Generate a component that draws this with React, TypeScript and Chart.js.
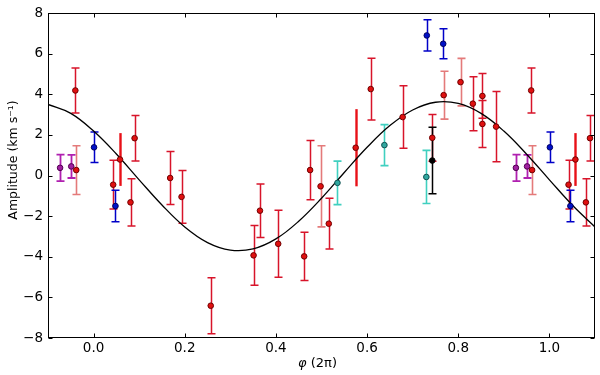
import { useEffect, useRef } from "react";
import { Chart, registerables } from "chart.js";

Chart.register(...registerables);

const xTicks = [0, 0.2, 0.4, 0.6, 0.8, 1.0];
const yTicks = [-8, -6, -4, -2, 0, 2, 4, 6, 8];

// red points (thin bars with caps)
const redPhase = [-0.040, 0.960, 0.043, 1.042, 0.081, 1.080, 0.090, 1.089, 0.168, 0.193, 0.257, 0.351, 0.365, 0.405, 0.462, 0.475, 0.516, 0.608, 0.678, 0.743, 0.832, 0.853, 0.853, 0.883];
const redAmp = [4.19, 4.19, -0.45, -0.45, -1.32, -1.32, 1.84, 1.84, -0.12, -1.05, -6.41, -3.93, -1.73, -3.36, -3.98, 0.27, -2.37, 4.26, 2.88, 1.86, 3.54, 3.92, 2.54, 2.41];
const redErr = [1.11, 1.11, 1.2, 1.2, 1.16, 1.16, 1.12, 1.12, 1.31, 1.3, 1.38, 1.47, 1.32, 1.65, 1.19, 1.46, 1.25, 1.52, 1.54, 1.15, 1.33, 1.1, 1.16, 1.73];

// light red points
const salmonPhase = [-0.038, 0.962, 0.498, 0.768, 0.805];
const salmonAmp = [0.27, 0.27, -0.53, 3.96, 4.60];
const salmonErr = [1.2, 1.2, 2.0, 1.18, 1.17];

// bright red points (thick bars, no caps)
const thickPhase = [0.058, 1.057, 0.575];
const thickAmp = [0.79, 0.79, 1.37];
const thickErr = [1.3, 1.3, 1.9];

const bluePhase = [0.001, 1.001, 0.048, 1.046, 0.731, 0.767];
const blueAmp = [1.39, 1.39, -1.5, -1.5, 6.9, 6.49];
const blueErr = [0.75, 0.75, 0.77, 0.77, 0.77, 0.74];

const cyanPhase = [0.535, 0.638, 0.730];
const cyanAmp = [-0.36, 1.5, -0.07];
const cyanErr = [1.07, 1.01, 1.31];

const purplePhase = [-0.0735, 0.9265, -0.049, 0.951];
const purpleAmp = [0.38, 0.38, 0.45, 0.45];
const purpleErr = [0.65, 0.65, 0.57, 0.57];

const blackPhase = [0.743];
const blackAmp = [0.74];
const blackErr = [1.64];

// model curve
const modelPhase = [-0.1, -0.05, 0, 0.05, 0.1, 0.15, 0.2, 0.25, 0.3, 0.35, 0.4, 0.45, 0.5, 0.55, 0.6, 0.65, 0.7, 0.75, 0.8, 0.85, 0.9, 0.95, 1.0, 1.05, 1.1];
const modelAmp = [3.5, 3.06, 2.19, 1.06, -0.21, -1.45, -2.53, -3.3, -3.67, -3.61, -3.12, -2.25, -1.12, 0.15, 1.39, 2.46, 3.23, 3.61, 3.55, 3.06, 2.19, 1.05, -0.21, -1.45, -2.53];

const pts = (xs: number[], ys: number[]) => xs.map((x, i) => ({ x, y: ys[i] }));

const FONT = "'DejaVu Sans', sans-serif";

const errorBarPlugin = {
  id: "errorBars",
  beforeDatasetsDraw(chart: any) {
    const ctx = chart.ctx;
    const xs = chart.scales.x;
    const ys = chart.scales.y;
    const a = chart.chartArea;
    ctx.save();
    ctx.beginPath();
    ctx.rect(a.left, a.top, a.right - a.left, a.bottom - a.top);
    ctx.clip();
    chart.data.datasets.forEach((ds: any) => {
      if (!ds.errors) return;
      ctx.strokeStyle = ds.errColor;
      ctx.lineWidth = ds.errWidth;
      ds.data.forEach((p: any, i: number) => {
        const px = Math.round(xs.getPixelForValue(p.x)) + 0.5;
        const top = ys.getPixelForValue(p.y + ds.errors[i]);
        const bot = ys.getPixelForValue(p.y - ds.errors[i]);
        ctx.beginPath();
        ctx.moveTo(px, top);
        ctx.lineTo(px, bot);
        if (ds.caps) {
          ctx.moveTo(px - 4, top);
          ctx.lineTo(px + 4, top);
          ctx.moveTo(px - 4, bot);
          ctx.lineTo(px + 4, bot);
        }
        ctx.stroke();
      });
    });
    ctx.restore();
  },
};

const framePlugin = {
  id: "frame",
  afterDraw(chart: any) {
    const ctx = chart.ctx;
    const a = chart.chartArea;
    const xs = chart.scales.x;
    const ys = chart.scales.y;
    ctx.save();
    ctx.strokeStyle = "#000";
    ctx.lineWidth = 1;
    const L = Math.round(a.left) + 0.5;
    const R = Math.round(a.right) - 0.5;
    const T = Math.round(a.top) + 0.5;
    const B = Math.round(a.bottom) - 0.5;
    ctx.strokeRect(L, T, R - L, B - T);
    ctx.beginPath();
    xTicks.forEach((v) => {
      const px = Math.round(xs.getPixelForValue(v)) + 0.5;
      ctx.moveTo(px, B);
      ctx.lineTo(px, B - 4);
      ctx.moveTo(px, T);
      ctx.lineTo(px, T + 4);
    });
    yTicks.forEach((v) => {
      const py = Math.round(ys.getPixelForValue(v)) + 0.5;
      ctx.moveTo(L, py);
      ctx.lineTo(L + 4, py);
      ctx.moveTo(R, py);
      ctx.lineTo(R - 4, py);
    });
    ctx.stroke();

    // axis titles
    ctx.fillStyle = "#000";
    ctx.textBaseline = "middle";
    const cx = (a.left + a.right) / 2 - 4;
    ctx.font = "italic 13px " + FONT;
    const phi = "φ";
    const rest = " (2π)";
    const w1 = ctx.measureText(phi).width;
    ctx.font = "13px " + FONT;
    const w2 = ctx.measureText(rest).width;
    const sx = cx - (w1 + w2) / 2;
    ctx.textAlign = "left";
    ctx.font = "italic 13px " + FONT;
    ctx.fillText(phi, sx, 364);
    ctx.font = "13px " + FONT;
    ctx.fillText(rest, sx + w1, 364);
    ctx.save();
    ctx.translate(14, 160);
    ctx.rotate(-Math.PI / 2);
    ctx.textAlign = "center";
    ctx.font = "12.5px " + FONT;
    ctx.fillText("Amplitude (km s⁻¹)", 0, 0);
    ctx.restore();
    ctx.restore();
  },
};

function App() {
  const ref = useRef<HTMLCanvasElement | null>(null);

  useEffect(() => {
    if (!ref.current) return;
    Chart.defaults.font.family = FONT;
    const mk = (
      xs: number[], ys: number[], es: number[],
      fill: string, edge: string, errColor: string, errWidth: number, caps: boolean
    ) => ({
      data: pts(xs, ys),
      errors: es,
      errColor,
      errWidth,
      caps,
      showLine: false,
      pointRadius: 2.8,
      pointBackgroundColor: fill,
      pointBorderColor: edge,
      pointBorderWidth: 1,
      order: 0,
    });
    const chart = new Chart(ref.current, {
      type: "scatter",
      data: {
        datasets: [
          {
            data: pts(modelPhase, modelAmp),
            showLine: true,
            borderColor: "#000",
            borderWidth: 1.3,
            pointRadius: 0,
            tension: 0.4,
            fill: false,
            order: 10,
          } as any,
          mk(salmonPhase, salmonAmp, salmonErr, "#e01010", "#700000", "#e47a7a", 1.6, true),
          mk(redPhase, redAmp, redErr, "#e01010", "#700000", "#d8142a", 1.5, true),
          mk(thickPhase, thickAmp, thickErr, "#e01010", "#700000", "#e81018", 2.4, false),
          mk(cyanPhase, cyanAmp, cyanErr, "#30a8a0", "#105050", "#40d0c0", 1.6, true),
          mk(purplePhase, purpleAmp, purpleErr, "#a020a0", "#500050", "#b020b0", 1.8, true),
          mk(bluePhase, blueAmp, blueErr, "#0010c8", "#000060", "#0000c8", 1.5, true),
          mk(blackPhase, blackAmp, blackErr, "#000", "#000", "#000", 1.5, true),
        ],
      },
      options: {
        animation: false,
        responsive: false,
        maintainAspectRatio: false,
        devicePixelRatio: 1,
        layout: { padding: { top: 9, right: 3, left: 0, bottom: 0 } },
        plugins: { legend: { display: false }, tooltip: { enabled: false } },
        scales: {
          x: {
            type: "linear",
            min: -0.1,
            max: 1.1,
            grid: { display: false, drawTicks: false },
            border: { display: false },
            ticks: {
              color: "#000",
              font: { size: 13.5, family: FONT },
              padding: 2,
              maxRotation: 0,
              callback: (v: any) => Number(v).toFixed(1),
            },
            afterBuildTicks: (s: any) => {
              s.ticks = xTicks.map((v) => ({ value: v }));
            },
            afterFit: (s: any) => {
              s.height = 37;
            },
          },
          y: {
            type: "linear",
            min: -8,
            max: 8,
            grid: { display: false, drawTicks: false },
            border: { display: false },
            ticks: {
              color: "#000",
              font: { size: 13.5, family: FONT },
              padding: 5,
              callback: (v: any) => (Number(v) < 0 ? "−" + Math.abs(Number(v)) : String(v)),
            },
            afterBuildTicks: (s: any) => {
              s.ticks = yTicks.map((v) => ({ value: v }));
            },
            afterFit: (s: any) => {
              s.width = 48;
            },
          },
        },
      },
      plugins: [errorBarPlugin, framePlugin],
    } as any);
    return () => chart.destroy();
  }, []);

  return (
    <div style={{ position: "absolute", left: 0, top: 0, width: 600, height: 375, background: "#fff" }}>
      <canvas ref={ref} width={600} height={375} style={{ width: 600, height: 375, display: "block" }} />
    </div>
  );
}

export default App;
